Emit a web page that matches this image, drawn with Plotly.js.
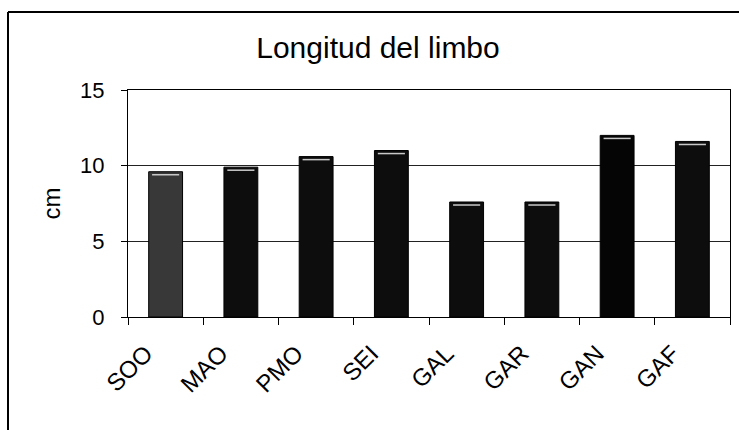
<!DOCTYPE html>
<html>
<head>
<meta charset="utf-8">
<script src="https://cdn.plot.ly/plotly-3.0.1.min.js"></script>
<style>html,body{margin:0;padding:0;background:#fff;}#chart{width:739px;height:430px;}</style>
</head>
<body>
<div id="chart"></div>
<script>
const categories = ["SOO", "MAO", "PMO", "SEI", "GAL", "GAR", "GAN", "GAF"];
const values = [9.6, 9.9, 10.6, 11.0, 7.6, 7.6, 12.0, 11.6];
const barColors = ["#383838", "#0d0d0d", "#0d0d0d", "#0d0d0d", "#0d0d0d", "#0d0d0d", "#050505", "#0d0d0d"];
const yTicks = [0, 5, 10, 15];

const W = 739, H = 430;
const m = {l: 128, r: 9, t: 90, b: 113};
const pw = W - m.l - m.r, ph = H - m.t - m.b;
const px = v => (v - m.l) / pw;
const py = v => (H - m.b - v) / ph;

const trace = {
  type: "bar",
  x: categories,
  y: values,
  marker: {color: barColors, line: {color: "#000", width: 1}},
  width: 0.45,
  hoverinfo: "x+y"
};

// thin light band near the top of each bar (pseudo-3D highlight)
const highlight = {
  type: "bar",
  x: categories,
  y: values.map(() => 0.1),
  base: values.map(v => v - 0.25),
  marker: {color: "#c8c8c8", line: {width: 0}},
  width: 0.36,
  hoverinfo: "skip"
};

const layout = {
  width: W, height: H,
  margin: m,
  barmode: "overlay",
  paper_bgcolor: "#fff",
  plot_bgcolor: "#fff",
  font: {family: "Liberation Sans, Arial, sans-serif", color: "#000", size: 22},
  showlegend: false,
  title: {text: "Longitud del limbo", font: {size: 30, color: "#000"}, xref: "container", x: 378 / W, xanchor: "center", yref: "container", y: 1 - 47 / H, yanchor: "middle"},
  xaxis: {
    type: "category",
    tickangle: -45,
    ticks: "outside", tickson: "boundaries", ticklen: 7, tickcolor: "#000",
    ticklabelstandoff: 12,
    ticklabelshift: -20,
    showline: true, linecolor: "#000", linewidth: 1, mirror: true,
    showgrid: false,
    tickfont: {size: 24}
  },
  yaxis: {
    range: [0, 15],
    tickvals: yTicks,
    ticks: "outside", ticklen: 6, tickcolor: "#000",
    ticklabelstandoff: 12,
    showline: true, linecolor: "#000", linewidth: 1, mirror: true,
    showgrid: true, gridcolor: "#222", gridwidth: 1,
    zeroline: false,
    tickfont: {size: 22},
    title: {text: "cm", font: {size: 24}, standoff: 12}
  },
  shapes: [
    {type: "line", xref: "paper", yref: "paper", x0: px(8), x1: px(8), y0: py(12), y1: py(H + 5), line: {color: "#000", width: 2}},
    {type: "line", xref: "paper", yref: "paper", x0: px(8), x1: px(W + 5), y0: py(12), y1: py(12), line: {color: "#000", width: 2}}
  ]
};

Plotly.newPlot("chart", [trace, highlight], layout, {displayModeBar: false, staticPlot: true});
</script>
</body>
</html>
